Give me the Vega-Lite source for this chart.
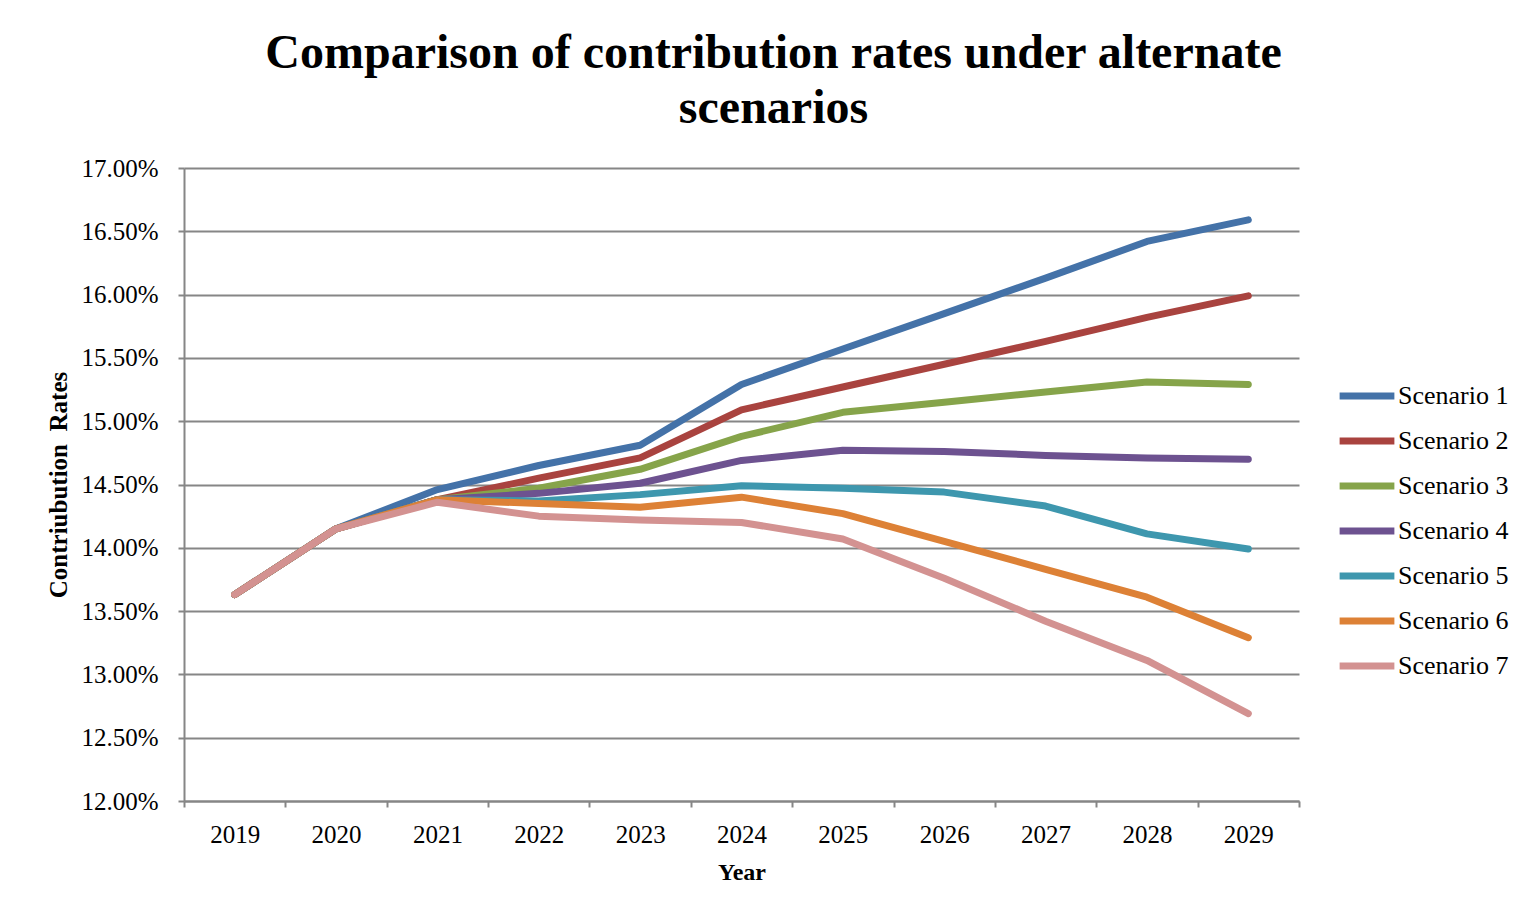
{
  "$schema": "https://vega.github.io/schema/vega-lite/v6.json",
  "autosize": "none",
  "width": 1115,
  "height": 633,
  "padding": {"left": 184, "top": 168, "right": 233, "bottom": 114},
  "background": "white",
  "title": {
    "text": ["Comparison of contribution rates under alternate", "scenarios"],
    "font": "Liberation Serif",
    "fontSize": 48,
    "fontWeight": "bold",
    "color": "black",
    "lineHeight": 55,
    "anchor": "middle",
    "frame": "group",
    "dx": 32,
    "offset": 23
  },
  "config": {
    "view": {"stroke": null},
    "font": "Liberation Serif"
  },
  "data": {
    "values": [
      {"year": "2019", "scenario": "Scenario 1", "rate": 0.1363},
      {"year": "2020", "scenario": "Scenario 1", "rate": 0.1415},
      {"year": "2021", "scenario": "Scenario 1", "rate": 0.1446},
      {"year": "2022", "scenario": "Scenario 1", "rate": 0.1465},
      {"year": "2023", "scenario": "Scenario 1", "rate": 0.1481},
      {"year": "2024", "scenario": "Scenario 1", "rate": 0.1529},
      {"year": "2025", "scenario": "Scenario 1", "rate": 0.1557},
      {"year": "2026", "scenario": "Scenario 1", "rate": 0.1585},
      {"year": "2027", "scenario": "Scenario 1", "rate": 0.1613},
      {"year": "2028", "scenario": "Scenario 1", "rate": 0.1642},
      {"year": "2029", "scenario": "Scenario 1", "rate": 0.1659},
      {"year": "2019", "scenario": "Scenario 2", "rate": 0.1363},
      {"year": "2020", "scenario": "Scenario 2", "rate": 0.1415},
      {"year": "2021", "scenario": "Scenario 2", "rate": 0.1438},
      {"year": "2022", "scenario": "Scenario 2", "rate": 0.1455},
      {"year": "2023", "scenario": "Scenario 2", "rate": 0.1471},
      {"year": "2024", "scenario": "Scenario 2", "rate": 0.1509},
      {"year": "2025", "scenario": "Scenario 2", "rate": 0.1527},
      {"year": "2026", "scenario": "Scenario 2", "rate": 0.1545},
      {"year": "2027", "scenario": "Scenario 2", "rate": 0.1563},
      {"year": "2028", "scenario": "Scenario 2", "rate": 0.1582},
      {"year": "2029", "scenario": "Scenario 2", "rate": 0.1599},
      {"year": "2019", "scenario": "Scenario 3", "rate": 0.1363},
      {"year": "2020", "scenario": "Scenario 3", "rate": 0.1415},
      {"year": "2021", "scenario": "Scenario 3", "rate": 0.1438},
      {"year": "2022", "scenario": "Scenario 3", "rate": 0.1447},
      {"year": "2023", "scenario": "Scenario 3", "rate": 0.1462},
      {"year": "2024", "scenario": "Scenario 3", "rate": 0.1488},
      {"year": "2025", "scenario": "Scenario 3", "rate": 0.1507},
      {"year": "2026", "scenario": "Scenario 3", "rate": 0.1515},
      {"year": "2027", "scenario": "Scenario 3", "rate": 0.1523},
      {"year": "2028", "scenario": "Scenario 3", "rate": 0.1531},
      {"year": "2029", "scenario": "Scenario 3", "rate": 0.1529},
      {"year": "2019", "scenario": "Scenario 4", "rate": 0.1363},
      {"year": "2020", "scenario": "Scenario 4", "rate": 0.1415},
      {"year": "2021", "scenario": "Scenario 4", "rate": 0.1438},
      {"year": "2022", "scenario": "Scenario 4", "rate": 0.1443},
      {"year": "2023", "scenario": "Scenario 4", "rate": 0.1451},
      {"year": "2024", "scenario": "Scenario 4", "rate": 0.1469},
      {"year": "2025", "scenario": "Scenario 4", "rate": 0.1477},
      {"year": "2026", "scenario": "Scenario 4", "rate": 0.1476},
      {"year": "2027", "scenario": "Scenario 4", "rate": 0.1473},
      {"year": "2028", "scenario": "Scenario 4", "rate": 0.1471},
      {"year": "2029", "scenario": "Scenario 4", "rate": 0.1470},
      {"year": "2019", "scenario": "Scenario 5", "rate": 0.1363},
      {"year": "2020", "scenario": "Scenario 5", "rate": 0.1415},
      {"year": "2021", "scenario": "Scenario 5", "rate": 0.1438},
      {"year": "2022", "scenario": "Scenario 5", "rate": 0.1437},
      {"year": "2023", "scenario": "Scenario 5", "rate": 0.1442},
      {"year": "2024", "scenario": "Scenario 5", "rate": 0.1449},
      {"year": "2025", "scenario": "Scenario 5", "rate": 0.1447},
      {"year": "2026", "scenario": "Scenario 5", "rate": 0.1444},
      {"year": "2027", "scenario": "Scenario 5", "rate": 0.1433},
      {"year": "2028", "scenario": "Scenario 5", "rate": 0.1411},
      {"year": "2029", "scenario": "Scenario 5", "rate": 0.1399},
      {"year": "2019", "scenario": "Scenario 6", "rate": 0.1363},
      {"year": "2020", "scenario": "Scenario 6", "rate": 0.1415},
      {"year": "2021", "scenario": "Scenario 6", "rate": 0.1438},
      {"year": "2022", "scenario": "Scenario 6", "rate": 0.1435},
      {"year": "2023", "scenario": "Scenario 6", "rate": 0.1432},
      {"year": "2024", "scenario": "Scenario 6", "rate": 0.1440},
      {"year": "2025", "scenario": "Scenario 6", "rate": 0.1427},
      {"year": "2026", "scenario": "Scenario 6", "rate": 0.1405},
      {"year": "2027", "scenario": "Scenario 6", "rate": 0.1383},
      {"year": "2028", "scenario": "Scenario 6", "rate": 0.1361},
      {"year": "2029", "scenario": "Scenario 6", "rate": 0.1329},
      {"year": "2019", "scenario": "Scenario 7", "rate": 0.1363},
      {"year": "2020", "scenario": "Scenario 7", "rate": 0.1415},
      {"year": "2021", "scenario": "Scenario 7", "rate": 0.1436},
      {"year": "2022", "scenario": "Scenario 7", "rate": 0.1425},
      {"year": "2023", "scenario": "Scenario 7", "rate": 0.1422},
      {"year": "2024", "scenario": "Scenario 7", "rate": 0.1420},
      {"year": "2025", "scenario": "Scenario 7", "rate": 0.1407},
      {"year": "2026", "scenario": "Scenario 7", "rate": 0.1376},
      {"year": "2027", "scenario": "Scenario 7", "rate": 0.1342},
      {"year": "2028", "scenario": "Scenario 7", "rate": 0.1311},
      {"year": "2029", "scenario": "Scenario 7", "rate": 0.1269}
    ]
  },
  "mark": {"type": "line", "strokeWidth": 7, "strokeCap": "round", "strokeJoin": "round"},
  "encoding": {
    "x": {
      "field": "year",
      "type": "ordinal",
      "scale": {"type": "band", "paddingInner": 0, "paddingOuter": 0},
      "bandPosition": 0.5,
      "axis": {
        "title": "Year",
        "titleFont": "Liberation Serif",
        "titleFontSize": 24,
        "titleFontWeight": "bold",
        "titleColor": "black",
        "titlePadding": 13,
        "labelFont": "Liberation Serif",
        "labelFontSize": 25,
        "labelColor": "black",
        "labelAngle": 0,
        "labelPadding": 15,
        "tickBand": "extent",
        "tickSize": 6,
        "tickColor": "#868686",
        "tickWidth": 2,
        "domainColor": "#868686",
        "domainWidth": 2,
        "grid": false
      }
    },
    "y": {
      "field": "rate",
      "type": "quantitative",
      "scale": {"domain": [0.12, 0.17], "nice": false, "zero": false},
      "axis": {
        "title": "Contriubution\u00a0\u00a0Rates",
        "titleFont": "Liberation Serif",
        "titleFontSize": 25,
        "titleFontWeight": "bold",
        "titleColor": "black",
        "titlePadding": 9,
        "format": ".2%",
        "values": [0.12, 0.125, 0.13, 0.135, 0.14, 0.145, 0.15, 0.155, 0.16, 0.165, 0.17],
        "labelFont": "Liberation Serif",
        "labelFontSize": 25,
        "labelColor": "black",
        "labelPadding": 20,
        "tickSize": 6,
        "tickColor": "#868686",
        "tickWidth": 2,
        "domainColor": "#868686",
        "domainWidth": 2,
        "grid": true,
        "gridColor": "#868686",
        "gridWidth": 2
      }
    },
    "color": {
      "field": "scenario",
      "type": "nominal",
      "scale": {
        "domain": ["Scenario 1", "Scenario 2", "Scenario 3", "Scenario 4", "Scenario 5", "Scenario 6", "Scenario 7"],
        "range": ["#4472A8", "#A9433F", "#86A44A", "#6D5290", "#3E97AE", "#DD8136", "#D39291"]
      },
      "legend": {
        "title": null,
        "orient": "none",
        "legendX": 1152,
        "legendY": 197,
        "symbolType": "stroke",
        "symbolStrokeWidth": 7,
        "symbolSize": 3000,
        "labelFont": "Liberation Serif",
        "labelFontSize": 26,
        "labelColor": "black",
        "labelOffset": 0,
        "rowPadding": 0
      }
    }
  }
}
